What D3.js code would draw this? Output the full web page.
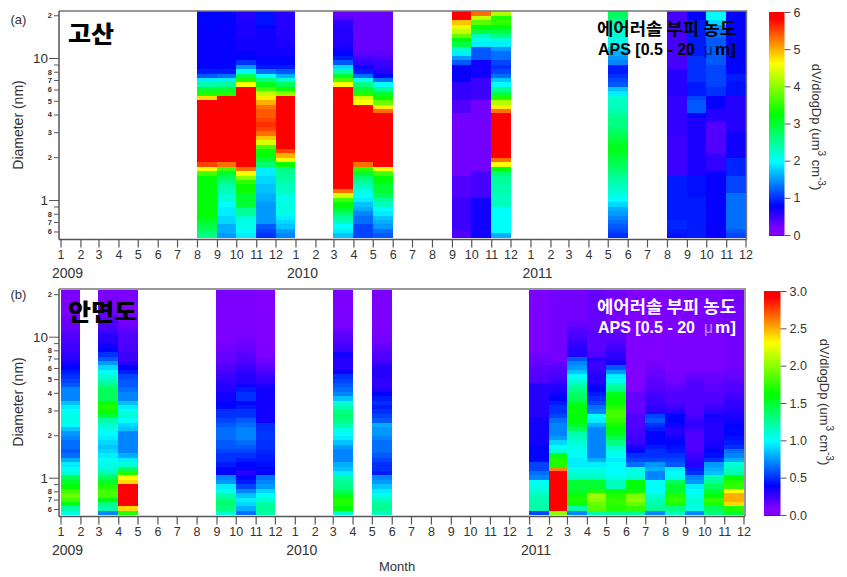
<!DOCTYPE html>
<html>
<head>
<meta charset="utf-8">
<script src="https://cdn.jsdelivr.net/npm/d3@7"></script>
<style>
  html, body { margin: 0; padding: 0; background: #fff; }
  svg { display: block; }
  text { font-family: "Liberation Sans", Arial, sans-serif; fill: #333; }
  .axis path, .axis line { stroke: #555; }
  .axis text { fill: #333; }
</style>
</head>
<body>
<svg id="chart" width="847" height="577"></svg>
<script>
// lower edge of each APS channel (um), last one is the top of the top channel
const channelEdges = [0.542,0.583,0.626,0.673,0.723,0.777,0.835,0.898,0.965,1.037,1.114,1.197,1.286,1.382,1.486,1.596,1.715,1.843,1.981,2.129,2.288,2.458,2.642,2.839,3.051,3.278,3.523,3.786,4.068,4.371,4.698,5.048,5.425,5.829,6.264,6.732,7.234,7.774,8.354,8.977,9.647,10.37,11.14,11.97,12.86,13.82,14.86,15.96,17.15,18.43,19.81,21.29]

// (a) Gosan, one array per month, bottom channel first
const g0908 = [2.6,2.7,2.9,3.0,3.2,3.2,3.2,3.2,3.2,3.2, 3.2,3.2,3.2,3.2,3.6,4.6,5.5,6.5,6.5,6.5, 6.5,6.5,6.5,6.5,6.5,6.5,6.5,6.5,6.5,6.5, 6.5,4.8,3.4,3.0,2.4,1.9,1.2,.9,.8,.75, .75,.75,.75,.75,.75,.75,.75,.75,.8,.8,.8]
const g0909 = [1.5,1.6,1.6,1.8,1.8,1.9,1.9,2.0,2.2,2.2, 2.3,2.4,2.6,2.8,3.0,3.6,5.3,6.5,6.5,6.5, 6.5,6.5,6.5,6.5,6.5,6.5,6.5,6.5,6.5,6.5, 6.5,6.5,3.4,3.0,2.5,1.9,1.3,.9,.8,.8, .75,.75,.75,.75,.75,.75,.75,.75,.75,.8,.8]
const g0910 = [1.9,2.0,2.1,2.1,2.2,2.5,2.5,3.0,3.0,3.0, 3.3,3.3,3.5,4.0,4.6,5.3,6.5,6.5,6.5,6.5, 6.5,6.5,6.5,6.5,6.5,6.5,6.5,6.5,6.5,6.5, 6.5,6.5,6.5,6.5,4.6,3.4,2.8,2.0,1.5,1.0, .8,.75,.7,.7,.7,.65,.65,.65,.65,.6,.6]
const g0911 = [1.0,1.1,1.2,1.5,1.5,1.5,1.5,1.5,1.6,1.6, 1.7,1.7,1.8,1.8,1.9,1.9,2.7,3.0,3.2,3.3, 3.6,4.4,4.9,5.3,5.5,5.6,5.5,5.4,5.4,5.3, 5.0,4.7,4.3,3.6,3.1,2.6,2.0,1.3,.9,.8, .75,.7,.7,.7,.7,.7,.7,.75,.85,.85,.85]
const g0912 = [1.4,1.5,1.7,1.8,1.9,2.1,2.1,2.1,2.1,2.1, 2.3,2.3,2.4,2.5,2.5,2.6,3.3,4.6,5.0,5.5, 6.5,6.5,6.5,6.5,6.5,6.5,6.5,6.5,6.5,6.5, 6.5,6.5,4.0,3.3,2.8,2.2,1.6,1.2,.9,.8, .75,.7,.7,.65,.65,.6,.6,.6,.6,.6,.6]
const g1003 = [1.7,1.9,2.0,2.3,2.5,2.7,3.0,3.2,3.6,4.4, 5.3,6.5,6.5,6.5,6.5,6.5,6.5,6.5,6.5,6.5, 6.5,6.5,6.5,6.5,6.5,6.5,6.5,6.5,6.5,6.5, 6.5,6.5,6.5,6.5,4.6,3.6,3.0,2.4,1.8,1.2, .9,.8,.7,.65,.6,.6,.6,.6,.55,.35,.3]
const g1004 = [1.1,1.1,1.1,1.3,1.3,1.4,1.6,1.7,1.9,2.0, 2.1,2.3,2.5,2.7,3.0,3.5,5.3,6.5,6.5,6.5, 6.5,6.5,6.5,6.5,6.5,6.5,6.5,6.5,6.5,6.5, 4.6,4.4,3.4,3.0,2.6,2.0,1.3,.9,.7,.55, .45,.35,.3,.3,.3,.3,.3,.3,.3,.3,.3]
const g1005 = [1.2,1.3,1.5,1.6,1.7,1.9,2.0,2.3,2.5,2.8, 3.0,3.0,3.2,3.2,3.6,4.6,5.8,6.5,6.5,6.5, 6.5,6.5,6.5,6.5,6.5,6.5,6.5,6.5,5.3,4.7, 3.8,3.3,3.0,2.5,2.0,1.3,.8,.6,.55,.5, .4,.35,.3,.3,.3,.3,.3,.3,.3,.3,.3]
const g1009 = [.4,.45,.5,.5,.5,.5,.5,.5,.5,.4, .4,.4,.4,.4,.25,.25,.25,.25,.25,.25, .25,.25,.25,.25,.25,.25,.25,.25,.4,.4, .4,.55,.55,.55,.55,.75,.75,.75,.75,1.2, 1.5,1.9,2.2,2.9,3.2,3.8,4.3,4.5,4.9,6.5,6.5]
const g1010 = [.7,.7,.7,.7,.7,.7,.7,.7,.7,.45, .45,.45,.45,.45,.45,.25,.25,.25,.25,.25, .25,.25,.25,.25,.25,.25,.25,.25,.25,.25, .25,.5,.5,.5,.5,.5,.7,.7,.7,.7, 1.2,1.2,1.2,1.9,2.1,2.3,2.9,3.2,3.7,4.3,5.3]
const g1011 = [1.6,2.0,2.0,2.0,2.0,2.0,2.0,2.3,2.3,2.3, 2.4,2.4,2.5,2.5,2.7,3.2,4.6,5.3,6.5,6.5, 6.5,6.5,6.5,6.5,6.5,6.5,6.5,6.5,5.3,4.7, 4.2,3.4,2.9,2.5,2.0,1.7,1.3,1.1,1.0,1.1, 1.3,1.3,1.5,1.9,2.2,2.6,2.9,3.2,3.5,3.4,4.2]
const g1105 = [1.0,1.1,1.2,1.3,1.4,1.5,1.6,1.8,2.0,2.1, 2.2,2.3,2.4,2.5,2.6,2.7,2.8,2.9,3.0,3.1, 3.1,3.0,2.9,2.8,2.7,2.6,2.6,2.5,2.4,2.3, 2.3,2.2,1.9,1.7,1.2,1.1,1.0,.9,.9,1.4, 1.5,1.6,1.8,2.0,2.1,2.2,2.2,2.3,2.4,2.7,2.8]
const g1108 = [.85,.9,.95,.95,.9,.9,.9,.9,.9,.9, .9,.9,.9,.9,.5,.5,.5,.5,.5,.5, .5,.5,.5,.55,.55,.55,.55,.55,.55,.55, .55,.55,.6,.6,.6,.6,.6,.6,.45,.45, .45,.45,.45,.45,.45,.45,.45,.45,.45,.45,.45]
const g1109 = [.9,.9,.9,.9,.9,.9,.9,.9,.9,.85, .85,.85,.85,.85,.65,.65,.65,.65,.65,.65, .65,.65,.65,.65,.65,.65,.65,.8,1.2,1.2, 1.2,1.1,.9,.9,.9,1.0,1.0,1.0,1.0,1.0, 1.0,.9,.9,.9,.9,.9,.9,.9,.9,.8,.8]
const g1110 = [.75,.75,.75,.75,.75,.75,.75,.75,.75,.75, .75,.75,.75,.75,.75,.55,.55,.55,.55,.4, .4,.4,.4,.4,.4,.4,.6,.6,.6,.75, .75,.75,1.0,1.0,1.1,1.1,1.1,1.1,1.1,1.2, 1.2,1.2,1.2,1.2,1.2,1.3,1.3,1.5,1.8,2.0,2.0]
const g1111 = [1.1,1.2,1.3,1.3,1.3,1.3,1.3,1.3,1.3,1.3, 1.1,1.1,1.1,1.1,.95,.95,.95,.95,.7,.7, .7,.7,.7,.7,.6,.6,.6,.6,.6,.6, .6,.6,.85,.85,.85,.9,.9,.8,.8,.8, .8,.8,.8,.8,.8,.8,.8,.8,.8,.8,.8]

const gosanMonths = ['2009-08','2009-09','2009-10','2009-11','2009-12','2010-03','2010-04','2010-05','2010-09','2010-10','2010-11','2011-05','2011-08','2011-09','2011-10','2011-11']
const gosanValues = [g0908,g0909,g0910,g0911,g0912,g1003,g1004,g1005,g1009,g1010,g1011,g1105,g1108,g1109,g1110,g1111]

// (b) Anmyeondo
const a0901 = [1.05,1.2,1.6,1.8,1.9,1.8,1.6,1.5,1.4,1.1, 1.0,.95,.8,.65,.6,.65,.65,.7,.75,.85, 1.0,1.05,1.05,1.0,.95,.85,.7,.7,.7,.6, .55,.5,.45,.4,.35,.3,.28,.25,.25,.22, .2,.18,.15,.15,.12,.1,.1,.1,.1,.1,.1]
const a0903 = [.7,1.2,1.3,1.6,1.8,1.8,1.7,1.5,1.4,1.2, 1.1,1.05,1.0,.95,.9,.85,.9,.95,1.0,1.05, 1.1,1.2,1.5,1.65,1.7,1.65,1.4,1.4,1.4,1.3, 1.2,1.1,1.0,.9,.75,.6,.5,.4,.35,.3, .3,.25,.22,.2,.18,.15,.12,.1,.1,.1,.1]
const a0904 = [1.7,2.4,3.2,3.2,3.2,3.2,3.2,2.4,2.3,1.7, 1.4,1.1,.95,.8,.7,.7,.7,.7,.7,.85, .9,1.0,1.1,1.05,.95,.85,.7,.7,.65,.6, .6,.55,.45,.4,.3,.25,.25,.22,.22,.2, .2,.18,.15,.12,.1,.1,.1,.1,.1,.1,.1]
const a0909 = [1.1,1.3,1.35,1.3,1.2,1.05,.95,.75,.7,.4, .4,.45,.5,.5,.55,.6,.6,.65,.65,.65, .6,.55,.5,.5,.4,.4,.35,.35,.3,.3, .28,.25,.22,.2,.18,.15,.15,.12,.12,.1, .1,.1,.1,.1,.1,.1,.1,.1,.1,.1,.1]
const a0910 = [.65,.8,.9,.95,.85,.7,.55,.45,.4,.3, .35,.4,.45,.5,.55,.6,.65,.7,.7,.7, .65,.6,.5,.5,.45,.4,.5,.5,.45,.35, .3,.3,.28,.25,.22,.2,.18,.15,.15,.12, .12,.1,.1,.1,.1,.1,.1,.1,.1,.1,.1]
const a0911 = [1.2,1.25,1.2,1.1,1.0,.9,.75,.7,.65,.4, .4,.42,.45,.45,.48,.5,.5,.52,.52,.5, .5,.35,.35,.35,.35,.35,.35,.35,.35,.32, .28,.25,.2,.18,.15,.12,.1,.08,.08,.08, .08,.08,.08,.08,.08,.08,.08,.08,.08,.08,.08]
const a1003 = [1.1,1.6,1.7,1.7,1.55,1.4,1.3,1.25,1.2,.95, .85,.8,.7,.7,.7,.75,.85,.95,1.0,1.05, 1.2,1.3,1.35,1.3,1.2,1.1,.85,.7,.65,.6, .55,.5,.35,.3,.3,.3,.35,.25,.22,.2, .18,.15,.12,.1,.1,.1,.1,.1,.1,.1,.1]
const a1005 = [1.15,1.25,1.25,1.15,1.05,.95,.85,.75,.7,.45, .5,.5,.55,.6,.65,.65,.65,.7,.75,.75, .8,.6,.55,.5,.45,.5,.45,.4,.3,.28, .28,.3,.3,.3,.25,.22,.2,.18,.15,.12, .12,.1,.1,.1,.1,.1,.1,.1,.1,.1,.1]
const a1101 = [.55,1.2,1.2,1.2,1.15,1.1,1.05,1.0,.7,.65, .55,.55,.4,.4,.4,.4,.35,.35,.35,.35, .35,.35,.3,.3,.3,.3,.3,.3,.3,.3, .2,.2,.18,.18,.15,.15,.12,.1,.1,.1, .1,.1,.1,.1,.1,.1,.1,.1,.1,.1,.1]
const a1102 = [2.0,3.2,3.2,3.2,3.2,3.2,3.2,3.2,3.2,3.2, 2.6,1.7,1.7,1.55,1.1,1.0,.9,.75,.7,.7, .7,.65,.55,.5,.5,.45,.4,.35,.32,.3, .25,.22,.2,.18,.15,.12,.12,.12,.12,.12, .12,.12,.12,.12,.12,.12,.12,.12,.12,.12,.12]
const a1103 = [.7,1.2,1.65,1.7,1.65,1.5,1.5,1.5,1.15,1.1, 1.05,.95,.95,1.0,1.0,1.05,1.1,1.15,1.2,1.4, 1.5,1.6,1.6,1.65,1.6,1.55,1.4,1.35,1.3,1.2, 1.1,1.0,.85,.75,.7,.6,.3,.3,.28,.25, .22,.2,.18,.15,.12,.12,.12,.12,.12,.12,.12]
const a1104 = [1.2,1.85,1.9,2.0,2.05,1.7,1.5,1.5,1.15,1.1, 1.05,.95,.8,.7,.7,.7,.7,.7,.7,.7, .8,.95,1.0,.7,.65,.55,.5,.45,.4,.35, .3,.3,.28,.25,.25,.3,.2,.18,.18,.18, .18,.18,.15,.15,.15,.15,.15,.15,.15,.15,.15]
const a1105 = [1.25,1.7,1.75,1.75,1.7,1.6,1.15,1.15,1.05,1.0, 1.0,1.0,.95,1.0,1.05,1.15,1.3,1.45,1.55,1.6, 1.65,1.75,1.8,1.8,1.7,1.65,1.6,1.55,1.3,1.2, 1.05,.95,.75,.6,.35,.3,.28,.25,.22,.2, .18,.15,.12,.12,.12,.12,.12,.12,.12,.12,.12]
const a1106 = [1.25,1.75,1.9,2.0,1.95,1.65,1.6,1.6,1.1,1.05, 1.05,.65,.55,.5,.4,.35,.25,.25,.22,.22, .2,.2,.2,.15,.15,.15,.15,.15,.08,.08, .08,.08,.08,.08,.08,.08,.08,.08,.08,.08, .08,.08,.08,.08,.08,.08,.08,.08,.08,.08,.08]
const a1107 = [.7,1.25,1.2,1.15,1.1,1.0,1.0,1.0,.7,.7, .8,.75,.55,.5,.5,.45,.4,.4,.4,.45, .5,.6,.55,.3,.28,.25,.25,.22,.2,.18, .18,.15,.15,.12,.12,.08,.08,.08,.08,.08, .08,.08,.08,.08,.08,.08,.08,.08,.08,.08,.08]
const a1108 = [1.15,1.3,1.7,1.75,1.7,1.5,1.5,1.4,1.05,1.0, .95,.6,.55,.5,.45,.42,.4,.35,.3,.3, .35,.4,.4,.3,.25,.22,.2,.2,.18,.15, .12,.12,.1,.1,.1,.1,.1,.1,.1,.1, .1,.1,.1,.1,.1,.1,.1,.1,.1,.1,.1]
const a1109 = [.7,1.05,1.1,1.1,1.05,1.0,.95,.75,.7,.5, .45,.3,.28,.25,.22,.2,.2,.2,.2,.25, .28,.25,.22,.2,.2,.2,.2,.2,.2,.2, .2,.15,.12,.1,.1,.1,.1,.1,.1,.1, .1,.1,.1,.1,.1,.1,.1,.1,.1,.1,.1]
const a1110 = [1.3,1.4,1.7,1.75,1.6,1.5,1.4,1.25,1.2,.85, .8,.75,.5,.42,.4,.35,.32,.3,.3,.3, .3,.32,.35,.28,.25,.22,.2,.2,.18,.18, .15,.15,.12,.1,.1,.1,.1,.1,.1,.1, .1,.1,.1,.1,.1,.1,.1,.1,.1,.1,.1]
const a1111 = [1.5,1.7,2.4,2.5,2.5,2.3,1.75,1.7,1.6,1.2, 1.15,1.1,.8,.7,.65,.5,.45,.42,.4,.4, .38,.35,.32,.3,.28,.28,.25,.22,.2,.2, .18,.15,.15,.12,.12,.12,.12,.12,.12,.12, .12,.12,.12,.12,.12,.12,.12,.12,.12,.12,.12]

const anmyeonMonths = ['2009-01','2009-03','2009-04','2009-09','2009-10','2009-11','2010-03','2010-05','2011-01','2011-02','2011-03','2011-04','2011-05','2011-06','2011-07','2011-08','2011-09','2011-10','2011-11']
const anmyeonValues = [a0901,a0903,a0904,a0909,a0910,a0911,a1003,a1005,a1101,a1102,a1103,a1104,a1105,a1106,a1107,a1108,a1109,a1110,a1111]

const diameterTicks = [0.6,0.7,0.8,0.9,1,2,3,4,5,6,7,8,9,10,20]
const diameterLabels = {0.6:'6',0.7:'7',0.8:'8',0.9:'',1:'1',2:'2',3:'3',4:'4',5:'5',6:'6',7:'7',8:'8',9:'',10:'10',20:'2'}
const yearLabels = [2009, 2010, 2011]
const gosanBarTicks = [0,1,2,3,4,5,6]
const anmyeonBarTicks = [0,0.5,1,1.5,2,2.5,3]

// violet holds for the lowest values, then the rainbow
const colorStops = [0, 0.03, 0.13, 0.33, 0.54, 0.77, 0.97]
const colorNames = ['#8000ff', '#8000ff', '#0000ff', '#00ffff', '#00ff00', '#ffff00', '#ff0000']

const svg = d3.select('#chart')
const parseMonth = d3.utcParse('%Y-%m')

///////////////////////
// ONE PANEL
///////////////////////
function drawPanel(p) {
    const x = d3.scaleUtc()
        .domain([Date.UTC(2009, 0, 1), Date.UTC(2011, 11, 1)])
        .range(p.xRange)
    // ticks 1 and 10 are fixed, the axis runs past them both ways
    const y = d3.scaleLog().domain([1, 10]).range(p.yDecade)
    const top = p.frameTop, bottom = p.frameBottom

    const color = d3.scaleLinear()
        .domain(colorStops.map(s => s * p.vmax))
        .range(colorNames)
        .clamp(true)

    // CELLS
    p.months.forEach((m, c) => {
        const start = parseMonth(m)
        const end = d3.utcMonth.offset(start, 1)
        svg.append('g').selectAll('rect')
            .data(p.values[c])
            .enter().append('rect')
            .attr('x', x(start))
            .attr('width', x(end) - x(start))
            .attr('y', (d, i) => y(channelEdges[i + 1]))
            .attr('height', (d, i) => y(channelEdges[i]) - y(channelEdges[i + 1]))
            .attr('fill', d => color(d))
            .attr('shape-rendering', 'crispEdges')
    })

    // FRAME
    svg.append('path')
        .attr('d', `M${p.xRange[0] - 1.5},${top}H${p.frameRight}V${bottom}`)
        .attr('fill', 'none')
        .attr('stroke', '#777')
        .attr('stroke-width', 1.5)

    // AXES
    const xAxis = svg.append('g')
        .attr('class', 'axis')
        .attr('transform', `translate(0,${bottom})`)
        .call(d3.axisBottom(x)
            .ticks(d3.utcMonth.every(1))
            .tickFormat(d3.utcFormat('%-m'))
            .tickSize(8).tickPadding(3))
    xAxis.select('.domain').attr('d', `M${p.xRange[0] - 1.5},0H${p.frameRight}`).attr('stroke-width', 1.5)
    xAxis.selectAll('line').attr('stroke-width', 1.2).attr('stroke', '#444')
    xAxis.selectAll('text').style('font-size', '12.5px')

    const yAxis = svg.append('g')
        .attr('class', 'axis')
        .attr('transform', `translate(${p.xRange[0] - 1.5},0)`)
        .call(d3.axisLeft(y).tickValues(diameterTicks).tickFormat(d => diameterLabels[d]))
    yAxis.select('.domain').attr('d', `M0,${top}V${bottom}`).attr('stroke-width', 1.5)
    yAxis.selectAll('.tick').each(function (d) {
        const major = d === 1 || d === 10
        const g = d3.select(this)
        g.select('line').attr('x2', major ? -10 : -5).attr('stroke', '#333')
        g.select('text').attr('x', major ? -11 : -7)
            .style('font-size', major ? '13.5px' : '7.5px')
            .style('font-weight', major ? 'normal' : 'bold')
    })

    yearLabels.forEach(yr => {
        svg.append('text')
            .attr('x', x(Date.UTC(yr, 0, 1)) + 7)
            .attr('y', bottom + 38)
            .attr('text-anchor', 'middle')
            .style('font-size', '14px')
            .text(yr)
    })

    // LABELS
    svg.append('text').attr('x', 10.5).attr('y', p.tagY).style('font-size', '13px').text(p.tag)
    svg.append('text')
        .attr('transform', `translate(23,${p.labelY}) rotate(-90)`)
        .attr('text-anchor', 'middle')
        .style('font-size', '14px')
        .text('Diameter (nm)')

    svg.append('text')
        .attr('x', p.site.x).attr('y', p.site.y)
        .attr('textLength', p.site.w).attr('lengthAdjust', 'spacingAndGlyphs')
        .style('font-family', '"Noto Sans CJK KR"').style('font-weight', 900)
        .style('font-size', '23px').style('fill', '#000')
        .text(p.site.name)

    svg.append('text')
        .attr('x', p.note.x).attr('y', p.note.y1)
        .attr('textLength', 139).attr('lengthAdjust', 'spacingAndGlyphs')
        .style('font-family', '"Noto Sans CJK KR"').style('font-weight', 700)
        .style('font-size', '17px').style('fill', p.note.fill)
        .text('에어러솔 부피 농도')

    // three pieces, the mu sits pale in the gap
    const apsPieces = [
        { t: 'APS [0.5 - 20', dx: 1, len: 97, w: 700, o: 1 },
        { t: '\u03bc', dx: 107, len: 9, w: 400, o: 0.55 },
        { t: 'm]', dx: 118, len: 21, w: 700, o: 1 }
    ]
    apsPieces.forEach(a => {
        svg.append('text')
            .attr('x', p.note.x + a.dx).attr('y', p.note.y2)
            .attr('textLength', a.len).attr('lengthAdjust', 'spacingAndGlyphs')
            .style('font-weight', a.w).style('fill-opacity', a.o)
            .style('font-size', '17px').style('fill', p.note.fill)
            .text(a.t)
    })

    // COLOR BAR
    const bar = p.bar
    const barScale = d3.scaleLinear().domain([0, p.vmax]).range([bar.y0, bar.y1])
    const grad = svg.append('defs').append('linearGradient')
        .attr('id', 'grad-' + p.tag[1])
        .attr('x1', 0).attr('y1', 1).attr('x2', 0).attr('y2', 0)
    colorStops.forEach((s, i) => {
        grad.append('stop').attr('offset', s).attr('stop-color', colorNames[i])
    })
    svg.append('rect')
        .attr('x', bar.x).attr('y', bar.y1)
        .attr('width', bar.w).attr('height', bar.y0 - bar.y1)
        .attr('fill', `url(#grad-${p.tag[1]})`)
    svg.append('line')
        .attr('x1', bar.x).attr('x2', bar.x + bar.w)
        .attr('y1', bar.y0 + 0.5).attr('y2', bar.y0 + 0.5)
        .attr('stroke', '#333')
    const barAxis = svg.append('g')
        .attr('class', 'axis')
        .attr('transform', `translate(${bar.x + bar.w},0)`)
        .call(d3.axisRight(barScale).tickValues(bar.ticks).tickFormat(d3.format(bar.fmt)).tickSize(6).tickPadding(3))
    barAxis.select('.domain').remove()
    barAxis.selectAll('text').style('font-size', '12.5px')

    const title = svg.append('text')
        .attr('transform', `translate(${bar.titleX},${bar.titleY}) rotate(90)`)
        .attr('text-anchor', 'middle')
        .style('font-size', '13px')
    title.append('tspan').text('dV/dlogDp (um')
    title.append('tspan').attr('dy', -6).style('font-size', '10px').text('3')
    title.append('tspan').attr('dy', 6).text(' cm')
    title.append('tspan').attr('dy', -6).style('font-size', '10px').text('-3')
    title.append('tspan').attr('dy', 6).text(')')
}

drawPanel({
    tag: '(a)', tagY: 24, labelY: 125,
    months: gosanMonths, values: gosanValues, vmax: 6,
    xRange: [60.5, 745.5], yDecade: [200, 58],
    frameTop: 11, frameBottom: 239.5, frameRight: 746.5,
    site: { name: '고산', x: 68, y: 42, w: 46 },
    note: { x: 597, y1: 35, y2: 55, fill: '#000' },
    bar: { x: 769, w: 15.5, y0: 235, y1: 12, ticks: gosanBarTicks, fmt: 'd', titleX: 812, titleY: 127 }
})

drawPanel({
    tag: '(b)', tagY: 299, labelY: 402,
    months: anmyeonMonths, values: anmyeonValues, vmax: 3,
    xRange: [60.5, 743.5], yDecade: [477.7, 336.7],
    frameTop: 289, frameBottom: 516.5, frameRight: 745,
    site: { name: '안면도', x: 68, y: 320, w: 69 },
    note: { x: 597, y1: 313, y2: 333, fill: '#fff' },
    bar: { x: 764, w: 16.5, y0: 515, y1: 291, ticks: anmyeonBarTicks, fmt: '.1f', titleX: 820, titleY: 402 }
})

svg.append('text')
    .attr('x', 379).attr('y', 571)
    .style('font-size', '13px')
    .text('Month')
</script>
</body>
</html>
